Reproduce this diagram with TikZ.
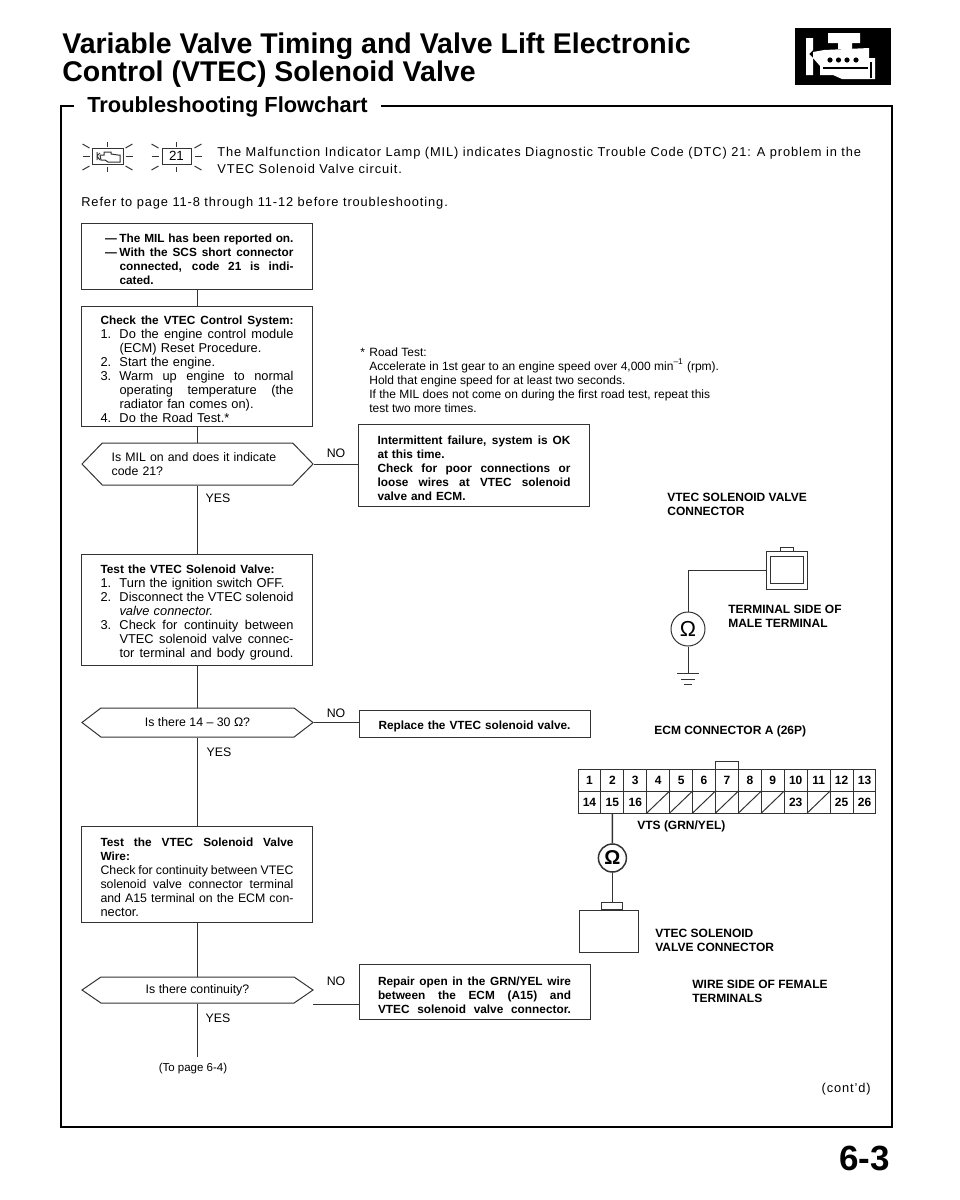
\documentclass[tikz,border=0pt]{standalone}
\usepackage{fontspec}
\setmainfont{Liberation Sans}
\usetikzlibrary{shapes.symbols,calc}
\newcommand{\bodyf}{\fontsize{7.4}{8.4}\selectfont}
\newcommand{\stepf}{\fontsize{7.7}{8.4}\selectfont}
\newcommand{\boldf}{\fontsize{7.1}{8.4}\selectfont\bfseries}
\newcommand{\capsf}{\fontsize{7.2}{7.9}\selectfont\bfseries}
\newcommand{\widef}{\fontsize{7.7}{10}\selectfont\addfontfeature{LetterSpace=7}}
\newcommand{\numb}[1]{\makebox[11.4pt][l]{#1}}
\newcommand{\cont}{\hspace*{11.4pt}}
\newcommand{\fitall}[1]{\makebox[115.8pt][s]{\spaceskip=\fontdimen2\font plus 1fil minus 1pt\relax #1}}
\newcommand{\fitsub}[1]{\makebox[104.4pt][s]{\spaceskip=\fontdimen2\font plus 1fil minus 1pt\relax #1}}

\begin{document}
\begin{tikzpicture}[
  x=0.6pt, y=-0.6pt,
  wire/.style={black!80, line width=0.6pt},
  stepbox/.style={draw=black!80, line width=0.6pt, font=\stepf, align=left, inner xsep=11.4pt, inner ysep=0pt, text width=115.8pt, execute at begin node={\rule{0pt}{9.2pt}}},
  qbox/.style={draw=black!80, line width=0.6pt, font=\bodyf, shape=signal, signal to=west and east, minimum width=138.6pt, inner sep=0pt},
  lbl/.style={font=\bodyf, inner sep=0pt},
  txt/.style={lbl, anchor=base west, align=left},
  hdr/.style={font=\capsf, inner sep=0pt, anchor=base west, align=left},
  pincell/.style={draw=black!80, line width=0.6pt, font=\capsf, inner sep=0pt, minimum width=13.75pt, minimum height=13.2pt},
  meter/.style={draw=black!80, line width=0.6pt, shape=circle, inner sep=0pt}
]
\useasboundingbox (0,0) rectangle (960,1200);

% Title and tab
\node[anchor=base west, inner sep=0pt, align=left, font=\fontsize{17.1}{16.8}\selectfont\bfseries] (title) at (62,81) {Variable Valve Timing and Valve Lift Electronic\\Control (VTEC) Solenoid Valve};
\node[fill=black, inner sep=0pt, minimum width=57.6pt, minimum height=34.2pt] (tab) at (843,56.5) {};
\fill[white] (828,33) -- (860,33) -- (860,43) -- (852,43) -- (852,49) -- (838,49) -- (838,43) -- (828,43) -- cycle;
\fill[white] (806,38) -- (813,38) -- (813,50) -- (809,54) -- (813,58) -- (813,75) -- (806,75) -- cycle;
\fill[white] (813,52) -- (824,50) -- (869,48) -- (869,58) -- (875,58) -- (875,79) -- (842,79) -- (833,75) -- (820,75) -- (820,66) -- (813,58) -- cycle;
\foreach \dx in {830,838.5,847,856} \fill[black] (\dx,60) circle (2.6);
\draw[black, line width=0.7pt] (823,68) -- (868,68);
\draw[black, line width=0.7pt] (871,62) -- (871,78);

% Frame
\node[anchor=base west, inner xsep=7.8pt, inner ysep=0pt, font=\fontsize{13.1}{13}\selectfont\bfseries] (flowhead) at (74,112) {Troubleshooting Flowchart};
\draw[black, line width=0.9pt] (flowhead.west |- 0,106) -- (61,106) -- (61,1127) -- (892,1127) -- (892,106) -- (flowhead.east |- 0,106);

% Indicator lamps
\node[draw=black!80, line width=0.6pt, inner sep=0pt, minimum width=18.6pt, minimum height=9.6pt] (lamp) at (107.5,156) {};
\node[draw=black!80, line width=0.6pt, inner sep=0pt, minimum width=17.4pt, minimum height=9.6pt, font=\fontsize{8}{8}\selectfont] (code) at (176.5,156) {21};
\draw[wire] (97,152) -- (97,160) (97,156) -- (100,153) (97,156) -- (100,160);
\draw[wire] (100,155) -- (104,155) -- (104,152) -- (111,152) -- (111,154) -- (118,155) -- (120,155) -- (120,162) -- (108,162) -- (105,160) -- (101,160) -- (100,155);
\foreach \cx in {107.5,176.5} {
  \draw[wire] (\cx,142) -- (\cx,147) (\cx,167) -- (\cx,172);
  \draw[wire] (\cx-25,156) -- (\cx-18,156) (\cx+18,156) -- (\cx+25,156);
  \draw[wire] (\cx-25,144) -- (\cx-18,148) (\cx+18,148) -- (\cx+25,144);
  \draw[wire] (\cx-25,170) -- (\cx-18,166) (\cx+18,166) -- (\cx+25,170);
}
\node[txt, font=\widef] (lampnote) at (217,173) {The Malfunction Indicator Lamp (MIL) indicates Diagnostic Trouble Code (DTC) 21:  A problem in the\\VTEC Solenoid Valve circuit.};
\node[txt, font=\widef] (refer) at (81,206) {Refer to page 11-8 through 11-12 before troubleshooting.};

% Flow column
\node[stepbox, minimum height=39.6pt, font=\boldf] (reported) at (197,256) {\numb{\hspace*{2.7pt}---}\fitsub{The MIL has been reported on.}\\\numb{\hspace*{2.7pt}---}\fitsub{With the SCS short connector}\\\cont\fitsub{connected, code 21 is indi-}\\\cont cated.};
\node[stepbox, minimum height=72pt] (control) at (197,366) {\fitall{\boldf Check the VTEC Control System:}\\\numb{1.}\fitsub{Do the engine control module}\\\cont(ECM) Reset Procedure.\\\numb{2.}Start the engine.\\\numb{3.}\fitsub{Warm up engine to normal}\\\cont\fitsub{operating temperature (the}\\\cont radiator fan comes on).\\\numb{4.}Do the Road Test.*};
\node[qbox, minimum height=25.2pt, signal pointer angle=92, align=left, text width=103pt] (milon) at (197.5,464) {Is MIL on and does it indicate\\code 21?};
\node[stepbox, minimum height=66.6pt] (solenoid) at (197,609.5) {{\boldf Test the VTEC Solenoid Valve:}\\\numb{1.}Turn the ignition switch OFF.\\\numb{2.}\fitsub{Disconnect the VTEC solenoid}\\\cont\textit{valve connector.}\\\numb{3.}\fitsub{Check for continuity between}\\\cont\fitsub{VTEC solenoid valve connec-}\\\cont\fitsub{tor terminal and body ground.}};
\node[qbox, minimum height=17.4pt, signal pointer angle=75] (ohms) at (197.5,722.5) {Is there 14 -- 30 Ω?};
\node[stepbox, minimum height=57.6pt] (wiretest) at (197,874) {\fitall{\boldf Test the VTEC Solenoid Valve}\\{\boldf Wire:}\\\fitall{\bodyf Check for continuity between VTEC}\\\fitall{\bodyf solenoid valve connector terminal}\\\fitall{\bodyf and A15 terminal on the ECM con-}\\nector.};
\node[qbox, minimum height=15.6pt, signal pointer angle=69] (contin) at (197.5,990) {Is there continuity?};
\node[lbl, font=\fontsize{6.9}{8}\selectfont] (topage) at (193,1069) {(To page 6-4)};
\coordinate (flowend) at (197,1057);

\draw[wire] (reported.south) -- (reported.south |- control.north);
\draw[wire] (control.south) -- (control.south |- milon.north);
\draw[wire] (control.south |- milon.south) -- (control.south |- solenoid.north);
\draw[wire] (control.south |- solenoid.south) -- (control.south |- ohms.north);
\draw[wire] (control.south |- ohms.south) -- (control.south |- wiretest.north);
\draw[wire] (control.south |- wiretest.south) -- (control.south |- contin.north);
\draw[wire] (control.south |- contin.south) -- (flowend);

\node[lbl] (yes1) at (218,498) {YES};
\node[lbl] (yes2) at (219,752) {YES};
\node[lbl] (yes3) at (218,1018) {YES};

% NO branches
\node[stepbox, minimum height=49.2pt, font=\boldf] (intermit) at (474,465) {\fitall{Intermittent failure, system is OK}\\at this time.\\\fitall{Check for poor connections or}\\\fitall{loose wires at VTEC solenoid}\\valve and ECM.};
\node[stepbox, minimum height=16.2pt, font=\boldf] (replace) at (475,723.5) {Replace the VTEC solenoid valve.};
\node[stepbox, minimum height=33pt, font=\boldf] (repair) at (474.5,991.5) {\fitall{Repair open in the GRN/YEL wire}\\\fitall{between the ECM (A15) and}\\\fitall{VTEC solenoid valve connector.}};
\node[lbl] (no1) at (336,453) {NO};
\node[lbl] (no2) at (336,713) {NO};
\node[lbl] (no3) at (336,981) {NO};
\coordinate (nofree) at (313,1004);
\draw[wire] (milon.east) -- (milon.east -| intermit.west);
\draw[wire] (ohms.east) -- (ohms.east -| replace.west);
\draw[wire] (nofree) -- (nofree -| repair.west);

% Road test note
\node[txt, font=\fontsize{7.2}{8.4}\selectfont] (roadstar) at (360,356) {*};
\node[txt, font=\fontsize{7.2}{8.4}\selectfont] (roadtest) at (369,412) {Road Test:\\Accelerate in 1st gear to an engine speed over 4,000 min\textsuperscript{--1} (rpm).\\Hold that engine speed for at least two seconds.\\If the MIL does not come on during the first road test, repeat this\\test two more times.};

% Solenoid connector, terminal side
\node[hdr] (conn1lbl) at (667,515) {VTEC SOLENOID VALVE\\CONNECTOR};
\node[draw=black!80, line width=0.6pt, inner sep=0pt, minimum width=24.6pt, minimum height=22.8pt] (conn1) at (786.5,570) {};
\node[draw=black!80, line width=0.6pt, inner sep=0pt, minimum width=19.8pt, minimum height=16.2pt] (conn1in) at (786.5,569.5) {};
\node[draw=black!80, line width=0.6pt, inner sep=0pt, minimum width=7.8pt, minimum height=2.4pt] (conn1tab) at (786.5,549) {};
\node[meter, minimum size=20.4pt, font=\fontsize{13}{13}\selectfont] (meter1) at (688,629) {Ω};
\coordinate (gnd1) at (688,673);
\draw[wire] (conn1.west) -| (meter1.north);
\draw[wire] (meter1.south) -- (gnd1);
\draw[wire] ($(gnd1)+(-11,0)$) -- ($(gnd1)+(11,0)$);
\draw[wire] ($(gnd1)+(-7,6)$) -- ($(gnd1)+(7,6)$);
\draw[wire] ($(gnd1)+(-4,11)$) -- ($(gnd1)+(4,11)$);
\node[hdr] (termlbl) at (728,627) {TERMINAL SIDE OF\\MALE TERMINAL};

% ECM connector
\node[hdr] (ecmlbl) at (654,734) {ECM CONNECTOR A (26P)};
\foreach \pin [count=\i] in {1,...,13}
  \node[pincell] (p\pin) at ({578+(\i-0.5)*22.92},780) {\pin};
\foreach \pin/\txtpin [count=\i] in {14/14,15/15,16/16,17/,18/,19/,20/,21/,22/,23/23,24/,25/25,26/26}
  \node[pincell] (p\pin) at ({578+(\i-0.5)*22.92},802) {\txtpin};
\foreach \pin in {17,18,19,20,21,22,24}
  \draw[wire] (p\pin.south west) -- (p\pin.north east);
\draw[wire] (p7.north west) -- ++(0,-7) -- ($(p7.north east)+(0,-7)$) -- (p7.north east);
\node[hdr] (vtslbl) at (637,829) {VTS (GRN/YEL)};
\node[meter, minimum size=16.8pt, line width=0.9pt, font=\fontsize{12}{12}\selectfont\bfseries] (meter2) at (612.4,858) {Ω};
\draw[black!80, line width=0.9pt] (p15.south) -- (meter2.north);

% Solenoid connector, wire side
\node[draw=black!80, line width=0.6pt, inner sep=0pt, minimum width=35.4pt, minimum height=25.2pt] (conn2) at (608.5,931) {};
\node[draw=black!80, line width=0.6pt, inner sep=0pt, minimum width=12.6pt, minimum height=4.2pt] (conn2tab) at (612.4,906) {};
\draw[wire] (meter2.south) -- (conn2tab.north);
\node[hdr] (conn2lbl) at (655,951) {VTEC SOLENOID\\VALVE CONNECTOR};
\node[hdr] (wirelbl) at (692,1002) {WIRE SIDE OF FEMALE\\TERMINALS};

% Page foot
\node[lbl, anchor=base east, font=\widef] (contd) at (871,1092) {(cont'd)};
\node[anchor=base east, inner sep=0pt, font=\fontsize{21}{21}\selectfont\bfseries] (pageno) at (890,1170) {6-3};

\end{tikzpicture}
\end{document}
